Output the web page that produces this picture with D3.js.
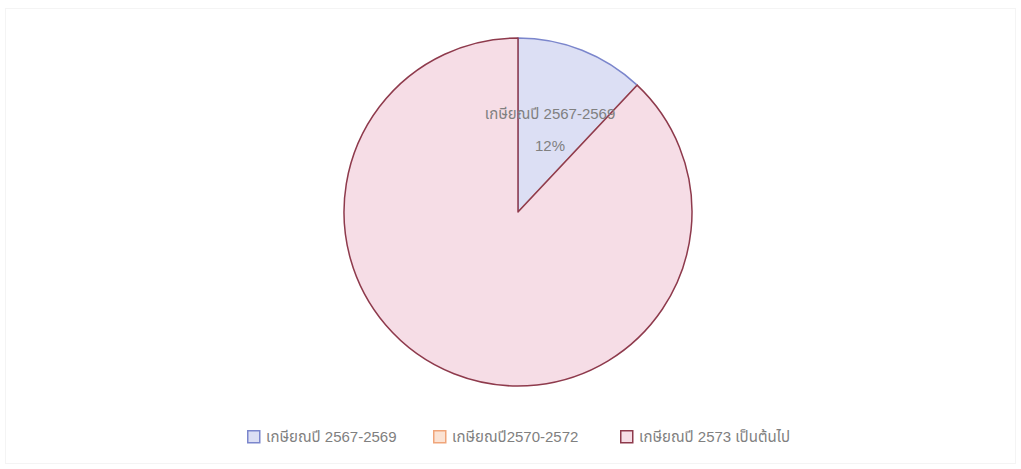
<!DOCTYPE html>
<html><head><meta charset="utf-8">
<script src="https://cdn.jsdelivr.net/npm/d3@7"></script>
<style>
html,body{margin:0;padding:0;background:#fff;}
svg{display:block;font-family:"Liberation Sans","Noto Sans Thai","Noto Sans",sans-serif;}
</style></head>
<body>
<svg id="c" width="1021" height="469"></svg>
<script>
const categories = ["เกษียณปี 2567-2569", "เกษียณปี2570-2572", "เกษียณปี 2573 เป็นต้นไป"];
const values = [12, 0, 88];
const showLabel = [true, false, false];
const fills = ["#dcdff4", "#fbe3d4", "#f6dde6"];
const strokes = ["#7b86cc", "#f0a57a", "#8e3a4c"];

const svg = d3.select("#c");
svg.append("rect").attr("x",5.5).attr("y",8.5).attr("width",1010).attr("height",455)
  .attr("fill","none").attr("stroke","#f4f4f4");

const cx = 518, cy = 212, r = 174;
const g = svg.append("g").attr("transform",`translate(${cx},${cy})`);
const pie = d3.pie().sort(null).value(d=>d)(values);
const arc = d3.arc().innerRadius(0).outerRadius(r);
const total = d3.sum(values);

g.selectAll("path").data(pie).join("path")
  .attr("d",arc).attr("fill",(d,i)=>fills[i]).attr("stroke",(d,i)=>strokes[i])
  .attr("stroke-width",1.5).attr("stroke-linejoin","round");

const lab = g.selectAll("g.lab").data(pie.filter((d,i)=>showLabel[i] && d.value>0)).join("g")
  .attr("class","lab")
  .attr("transform",d=>{const c=arc.centroid(d);return `translate(${c[0]},${c[1]})`;});
lab.append("text").attr("text-anchor","middle").attr("y",-12).attr("font-size",15).attr("fill","#808080")
  .text(d=>categories[d.index]);
lab.append("text").attr("text-anchor","middle").attr("y",20).attr("font-size",15).attr("fill","#808080")
  .text(d=>Math.round(d.value/total*100)+"%");

// legend
const legX = [247, 433, 620];
const leg = svg.append("g");
categories.forEach((c,i)=>{
  const it = leg.append("g").attr("transform",`translate(${legX[i]},430)`);
  it.append("rect").attr("x",0.75).attr("y",0.75).attr("width",12).attr("height",12)
    .attr("fill",fills[i]).attr("stroke",strokes[i]).attr("stroke-width",1.5);
  it.append("text").attr("x",19).attr("y",12).attr("font-size",15).attr("fill","#808080").text(c);
});
</script>
</body></html>
